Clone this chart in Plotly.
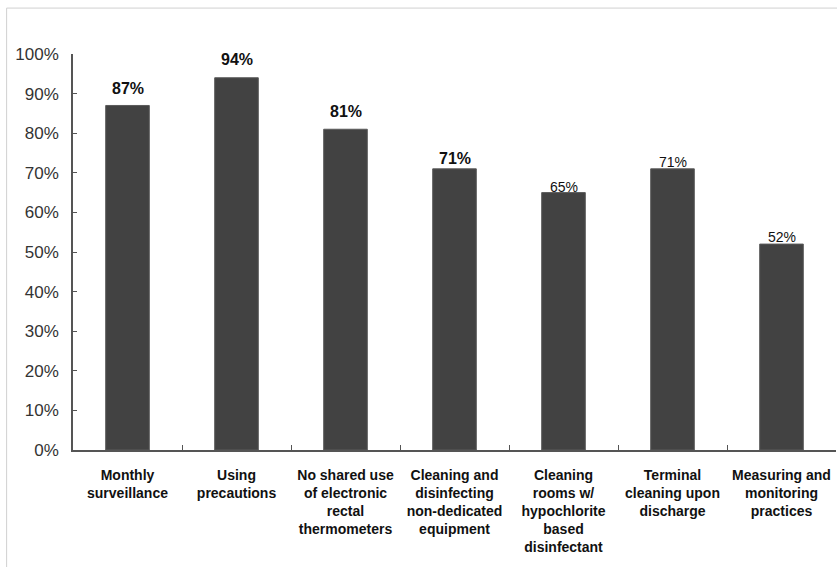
import plotly.graph_objects as go

categories = [
    "Monthly<br>surveillance",
    "Using<br>precautions",
    "No shared use<br>of electronic<br>rectal<br>thermometers",
    "Cleaning and<br>disinfecting<br>non-dedicated<br>equipment",
    "Cleaning<br>rooms w/<br>hypochlorite<br>based<br>disinfectant",
    "Terminal<br>cleaning upon<br>discharge",
    "Measuring and<br>monitoring<br>practices",
]
values = [0.87, 0.94, 0.81, 0.71, 0.65, 0.71, 0.52]
value_labels = ["87%", "94%", "81%", "71%", "65%", "71%", "52%"]
label_bold = [True, True, True, True, False, False, False]
label_size = [16, 16, 16, 16, 14, 14, 14]
label_offset = [17, 18, 18, 10, 6, 7, 7]

y_ticks = [i / 10 for i in range(11)]
y_ticktext = [f"{i * 10}%" for i in range(11)]

fig = go.Figure()
fig.add_trace(go.Bar(
    x=categories, y=values, width=0.4,
    marker=dict(color="#424242", line=dict(color="#5a5a5a", width=1)),
    hoverinfo="skip",
))

for c, v, t, b, s, o in zip(categories, values, value_labels, label_bold, label_size, label_offset):
    fig.add_annotation(
        x=c, y=v, text=(f"<b>{t}</b>" if b else t), showarrow=False,
        yanchor="middle", yshift=o,
        font=dict(family="Liberation Sans, Arial", size=s, color="#111111"),
    )

# light grey frame
fig.add_shape(type="line", xref="paper", yref="paper", x0=-0.087, x1=1.01, y0=1.116, y1=1.116,
              line=dict(color="#d0d0d0", width=1))
fig.add_shape(type="line", xref="paper", yref="paper", x0=-0.087, x1=-0.087, y0=1.116, y1=-0.3,
              line=dict(color="#d0d0d0", width=1))

fig.update_layout(
    width=837, height=567,
    margin=dict(l=73, r=1, t=54, b=117),
    paper_bgcolor="white", plot_bgcolor="white",
    showlegend=False,
    bargap=0.6,
    font=dict(family="Liberation Sans, Arial", color="#222222"),
    xaxis=dict(
        showline=True, linecolor="#555555", linewidth=1.5,
        ticks="inside", ticklen=5, tickcolor="#555555", tickson="boundaries",
        tickfont=dict(family="Liberation Sans, Arial", size=14, color="#111111", weight="bold"),
        showgrid=False, zeroline=False,
        ticklabelstandoff=11,
    ),
    yaxis=dict(
        range=[0, 1], tickvals=y_ticks, ticktext=y_ticktext,
        showline=True, linecolor="#555555", linewidth=1.5,
        ticks="inside", ticklen=4, tickcolor="#555555",
        tickfont=dict(family="Liberation Sans, Arial", size=17, color="#333333"),
        showgrid=False, zeroline=False,
        ticklabelstandoff=9,
    ),
)

fig.write_html("out.html")
